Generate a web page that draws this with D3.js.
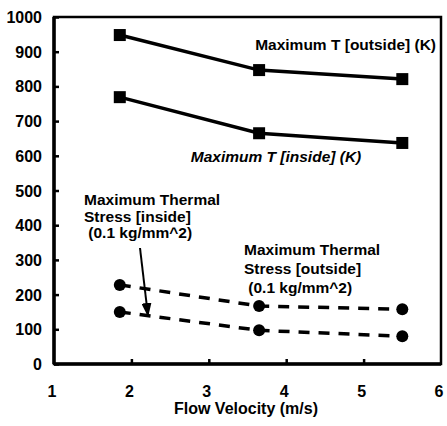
<!DOCTYPE html>
<html>
<head>
<meta charset="utf-8">
<script src="https://cdn.jsdelivr.net/npm/d3@7"></script>
<style>
  body { margin: 0; background: #fff; }
  text { font-family: "Liberation Sans", Arial, sans-serif; font-weight: bold; fill: #000; }
</style>
</head>
<body>
<div id="chart"></div>
<script>
// Chart data
const velocity = [1.85, 3.65, 5.5];
const tOutside = [948, 847, 821];
const tInside = [769, 665, 637];
const stressOutside = [228, 167, 158];
const stressInside = [150, 97, 80];
const xTicks = [1, 2, 3, 4, 5, 6];
const yTicks = [0, 100, 200, 300, 400, 500, 600, 700, 800, 900, 1000];

const width = 447;
const height = 426;

const x = d3.scaleLinear().domain([1, 6]).range([54, 441]);
const y = d3.scaleLinear().domain([0, 1000]).range([364, 17]);

const svg = d3.select('#chart')
    .append('svg')
    .attr('width', width)
    .attr('height', height);

// Frame
svg.append('rect')
    .attr('x', x(1)).attr('y', y(1000))
    .attr('width', x(6) - x(1)).attr('height', y(0) - y(1000))
    .attr('fill', 'none').attr('stroke', '#000').attr('stroke-width', 2.5);

// Left and bottom axes are heavier
svg.append('line')
    .attr('x1', x(1)).attr('x2', x(1)).attr('y1', y(1000)).attr('y2', y(0))
    .attr('stroke', '#000').attr('stroke-width', 3.5);
svg.append('line')
    .attr('x1', x(1)).attr('x2', x(6)).attr('y1', y(0)).attr('y2', y(0))
    .attr('stroke', '#000').attr('stroke-width', 3.5);

// Y axis ticks and labels
const yAxis = svg.append('g').attr('transform', `translate(${x(1)},0)`)
    .call(d3.axisRight(y).tickValues(yTicks).tickSize(5).tickFormat(''));
yAxis.select('.domain').remove();
yAxis.selectAll('line').attr('stroke-width', 2.5);

svg.selectAll('.ylab')
    .data(yTicks)
    .enter()
    .append('text')
    .attr('class', 'ylab')
    .attr('x', 42)
    .attr('y', d => y(d) + 6)
    .attr('text-anchor', 'end')
    .attr('font-size', 16)
    .text(d => d);

// X axis ticks and labels
const xAxis = svg.append('g').attr('transform', `translate(0,${y(0)})`)
    .call(d3.axisTop(x).tickValues(xTicks.slice(1, -1)).tickSize(5).tickFormat(''));
xAxis.select('.domain').remove();
xAxis.selectAll('line').attr('stroke-width', 2.5);

svg.selectAll('.xlab')
    .data(xTicks)
    .enter()
    .append('text')
    .attr('class', 'xlab')
    .attr('x', d => x(d) - 2)
    .attr('y', 397)
    .attr('text-anchor', 'middle')
    .attr('font-size', 16)
    .text(d => d);

svg.append('text')
    .attr('x', 246).attr('y', 414)
    .attr('text-anchor', 'middle')
    .attr('font-size', 16)
    .text('Flow Velocity (m/s)');

// Series lines
const line = d3.line().x(d => x(d[0])).y(d => y(d[1]));

function drawSeries(values, dashed, marker) {
    const pts = velocity.map((v, i) => [v, values[i]]);
    svg.append('path')
        .datum(pts)
        .attr('d', line)
        .attr('fill', 'none')
        .attr('stroke', '#000')
        .attr('stroke-width', 3.5)
        .attr('stroke-dasharray', dashed ? '11,9' : null);
    if (marker === 'square') {
        svg.selectAll(null)
            .data(pts)
            .enter()
            .append('rect')
            .attr('x', d => x(d[0]) - 6)
            .attr('y', d => y(d[1]) - 6)
            .attr('width', 12)
            .attr('height', 12)
            .attr('fill', '#000');
    } else {
        svg.selectAll(null)
            .data(pts)
            .enter()
            .append('circle')
            .attr('cx', d => x(d[0]))
            .attr('cy', d => y(d[1]))
            .attr('r', 6)
            .attr('fill', '#000');
    }
}

drawSeries(tOutside, false, 'square');
drawSeries(tInside, false, 'square');
drawSeries(stressOutside, true, 'circle');
drawSeries(stressInside, true, 'circle');

// Annotations
function label(lines, xPos, yPos, step, anchor, italic) {
    const t = svg.append('text')
        .attr('font-size', 15.5)
        .attr('text-anchor', anchor)
        .attr('font-style', italic ? 'italic' : null);
    lines.forEach((s, i) => {
        t.append('tspan').attr('x', xPos).attr('y', yPos + i * step).text(s);
    });
}

label(['Maximum T [outside] (K)'], 436, 50, 0, 'end', false);
label(['Maximum T [inside] (K)'], 276, 162, 0, 'middle', true);
label(['Maximum Thermal', 'Stress [inside]', ' (0.1 kg/mm^2)'], 84, 205, 16.5, 'start', false);
label(['Maximum Thermal', 'Stress [outside]', ' (0.1 kg/mm^2)'], 244, 255, 19, 'start', false);

// Arrow from inside stress label to its curve
svg.append('defs').append('marker')
    .attr('id', 'arrow')
    .attr('viewBox', '0 0 14 10')
    .attr('refX', 13).attr('refY', 5)
    .attr('markerUnits', 'userSpaceOnUse')
    .attr('markerWidth', 14).attr('markerHeight', 10)
    .attr('orient', 'auto')
    .append('path')
    .attr('d', 'M0,0L14,5L0,10z')
    .attr('fill', '#000');

svg.append('line')
    .attr('x1', 140).attr('y1', 248)
    .attr('x2', 148).attr('y2', 316)
    .attr('stroke', '#000')
    .attr('stroke-width', 2)
    .attr('marker-end', 'url(#arrow)');
</script>
</body>
</html>
